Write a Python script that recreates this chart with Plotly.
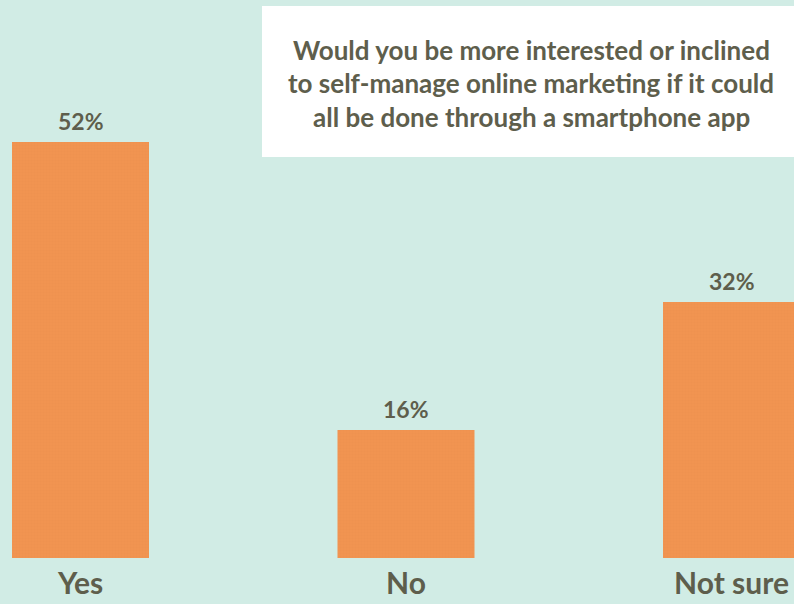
import plotly.graph_objects as go

# Survey answers and their shares (%)
categories = ["Yes", "No", "Not sure"]
shares = [52, 16, 32]
share_labels = ["52%", "16%", "32%"]
question_lines = [
    "Would you be more interested or inclined",
    "to self-manage online marketing if it could",
    "all be done through a smartphone app",
]

BG = "#d1ece5"
BAR = "#f19451"
INK = "#5e5e4c"
FONT = "Lato"

W, H = 794, 604
BOTTOM = 46
step = 325.5          # px between category centres
first = 80.5          # px centre of the first category
bar_px = 137
plot_h = H - BOTTOM
px_per_pct = 8.0

xs = list(range(len(categories)))

fig = go.Figure(
    go.Bar(
        x=xs,
        y=shares,
        width=bar_px / step,
        marker=dict(
            color=BAR,
            line=dict(width=0),
            pattern=dict(shape="+", size=3, solidity=0.15,
                         fgcolor="#d9803f", fgopacity=0.25),
        ),
        hoverinfo="skip",
    )
)

# Percentage labels above each bar
for x, v, t in zip(xs, shares, share_labels):
    fig.add_annotation(
        x=x, y=v, text=t, showarrow=False, yanchor="bottom", yshift=5,
        font=dict(family=FONT, size=23, color=INK, weight="bold"),
    )

# Question box in the upper right
box_left = 262 / W
fig.add_shape(
    type="rect", xref="paper", yref="paper",
    x0=box_left, x1=1.02, y0=1 - 157 / plot_h, y1=1 - 6 / plot_h,
    fillcolor="white", line=dict(width=0), layer="above",
)
for i, line in enumerate(question_lines):
    yc = 50 + i * 33.5
    fig.add_annotation(
        xref="paper", yref="paper", x=531 / W, y=1 - yc / plot_h,
        text=line, showarrow=False, xanchor="center", yanchor="middle",
        font=dict(family=FONT, size=26, color=INK, weight="bold"),
    )

fig.update_layout(
    width=W, height=H,
    margin=dict(l=0, r=0, t=0, b=BOTTOM, autoexpand=False),
    paper_bgcolor=BG, plot_bgcolor=BG,
    showlegend=False,
    xaxis=dict(
        range=[-first / step, (W - first) / step],
        tickmode="array", tickvals=xs, ticktext=categories,
        tickfont=dict(family=FONT, size=30, color=INK, weight="bold"),
        showgrid=False, zeroline=False, showline=False, ticks="",
        ticklabelstandoff=5, fixedrange=True, automargin=False,
    ),
    yaxis=dict(
        range=[0, plot_h / px_per_pct], visible=False,
        showgrid=False, zeroline=False, fixedrange=True, automargin=False,
    ),
)

fig.write_html("out.html", config={"displayModeBar": False})
